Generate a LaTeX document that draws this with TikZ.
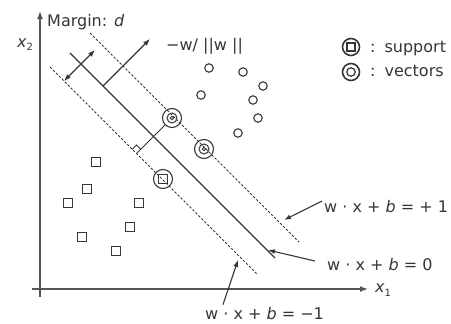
\documentclass[tikz,border=0pt]{standalone}
\usepackage{fontspec}
\usetikzlibrary{arrows.meta}
\newfontfamily\lblf{DejaVu Sans}
\definecolor{tc}{HTML}{353535}
\definecolor{lc}{HTML}{363636}
\definecolor{ac}{HTML}{555555}
\tikzset{
  hyp/.style={draw=lc, line width=1.1pt},
  dsh/.style={draw=lc, line width=1.05pt, dash pattern=on 2.4pt off 1.8pt},
  axis/.style={draw=ac, line width=1.5pt, -{Latex[length=8pt,width=6pt]}},
  lbl/.style={inner sep=0pt, text=tc, font=\lblf\fontsize{16}{19}\selectfont},
  pt/.style={circle, draw=lc, line width=1.1pt, minimum size=8.5pt, inner sep=0pt},
  sq/.style={rectangle, draw=lc, line width=1.1pt, minimum size=9.5pt, inner sep=0pt},
  ring/.style={circle, draw=lc, line width=1.1pt, minimum size=19pt, inner sep=0pt},
  inring/.style={circle, draw=lc, line width=1pt, minimum size=10pt, inner sep=0pt},
  dotc/.style={circle, draw=lc, line width=0.8pt, minimum size=3.5pt, inner sep=0pt},
  ptr/.style={draw=lc, line width=1.1pt, -{Latex[length=7pt,width=5pt]}},
  dbl/.style={draw=lc, line width=1.1pt, {Latex[length=7pt,width=5pt]}-{Latex[length=7pt,width=5pt]}}
}
\begin{document}
\begin{tikzpicture}[x=1pt,y=-1pt]
\useasboundingbox (0,0) rectangle (451,324);
% axes
\coordinate (o1) at (40,297);
\coordinate (yt) at (40,11);
\coordinate (o2) at (32,289);
\coordinate (xt) at (368,289);
\draw[axis] (o1) -- (yt);
\draw[axis] (o2) -- (xt);
\node[lbl, anchor=base west] (x2l) at (17,47) {\itshape x\raisebox{-3pt}{\fontsize{10}{10}\selectfont\upshape 2}};
\node[lbl, anchor=base west] (x1l) at (375,292) {\itshape x\raisebox{-4pt}{\fontsize{10}{10}\selectfont\upshape 1}};
% hyperplanes
\coordinate (u1) at (90,33);
\coordinate (u2) at (299,242);
\coordinate (h1) at (70,53);
\coordinate (h2) at (275,258);
\coordinate (l1) at (50,67);
\coordinate (l2) at (257,274);
\draw[dsh] (u1) -- (u2);
\draw[hyp] (h1) -- (h2);
\draw[dsh] (l1) -- (l2);
% margin arrow and normal
\coordinate (m1) at (64,81);
\coordinate (m2) at (95,50);
\draw[dbl] (m1) -- (m2);
\coordinate (w1) at (103,86);
\coordinate (w2) at (150,39);
\draw[ptr] (w1) -- (w2);
\node[lbl, anchor=base west] (mlab) at (47,27) {Margin: \itshape d};
\node[lbl, anchor=base west] (wlab) at (166,51) {−w/ ||w ||};
% circles class
\node[pt] (c1) at (209,68) {};
\node[pt] (c2) at (243,72) {};
\node[pt] (c3) at (263,86) {};
\node[pt] (c4) at (201,95) {};
\node[pt] (c5) at (253,100) {};
\node[pt] (c6) at (258,118) {};
\node[pt] (c7) at (238,133) {};
% squares class
\node[sq] (s1) at (96,162) {};
\node[sq] (s2) at (87,189) {};
\node[sq] (s3) at (68,203) {};
\node[sq] (s4) at (139,203) {};
\node[sq] (s5) at (130,227) {};
\node[sq] (s6) at (82,237) {};
\node[sq] (s7) at (116,251) {};
% support vectors
\node[ring] (sv1) at (172,118) {};
\node[inring] (sv1i) at (sv1) {};
\node[dotc] (sv1d) at (sv1) {};
\node[ring] (sv2) at (204,149) {};
\node[inring] (sv2i) at (sv2) {};
\node[dotc] (sv2d) at (sv2) {};
\node[ring] (sv3) at (163,179) {};
\node[sq, minimum size=9pt] (sv3s) at (sv3) {};
% perpendicular to lower margin with right-angle mark
\coordinate (ft) at (136.5,153.5);
\draw[hyp, line width=1pt] (sv1) -- (ft);
\draw[lc, line width=0.9pt] ([shift={(-4.2,-4.2)}]ft) -- ([shift={(0,-8.5)}]ft) -- ([shift={(4.2,-4.2)}]ft);
% legend
\node[ring, minimum size=17pt, line width=1.6pt] (lg1) at (351,47) {};
\node[sq, minimum size=8pt, line width=1.2pt] (lg1s) at (lg1) {};
\node[ring, minimum size=17pt, line width=1.6pt] (lg2) at (351,72) {};
\node[inring, minimum size=8.5pt, line width=1.2pt] (lg2i) at (lg2) {};
\node[lbl, anchor=base west] (lt1) at (370,52.5) {:\hspace{9pt}support};
\node[lbl, anchor=base west] (lt2) at (370,77) {:\hspace{9pt}vectors};
% equation labels
\node[lbl, anchor=base west] (ep) at (324,212) {w · x + \itshape b\upshape\ = + 1};
\node[lbl, anchor=base west] (e0) at (327,270) {w · x + \itshape b\upshape\ = 0};
\node[lbl, anchor=base west] (em) at (205,319) {w · x + \itshape b\upshape\ = −1};
\coordinate (tp) at (284,220);
\coordinate (t0) at (268,250);
\coordinate (tm) at (238,260);
\draw[ptr] ([shift={(-2,-5)}]ep.west) -- (tp);
\draw[ptr] ([shift={(-12,-3)}]e0.west) -- (t0);
\draw[ptr] ([shift={(18,-2)}]em.north west) -- (tm);
\end{tikzpicture}
\end{document}
